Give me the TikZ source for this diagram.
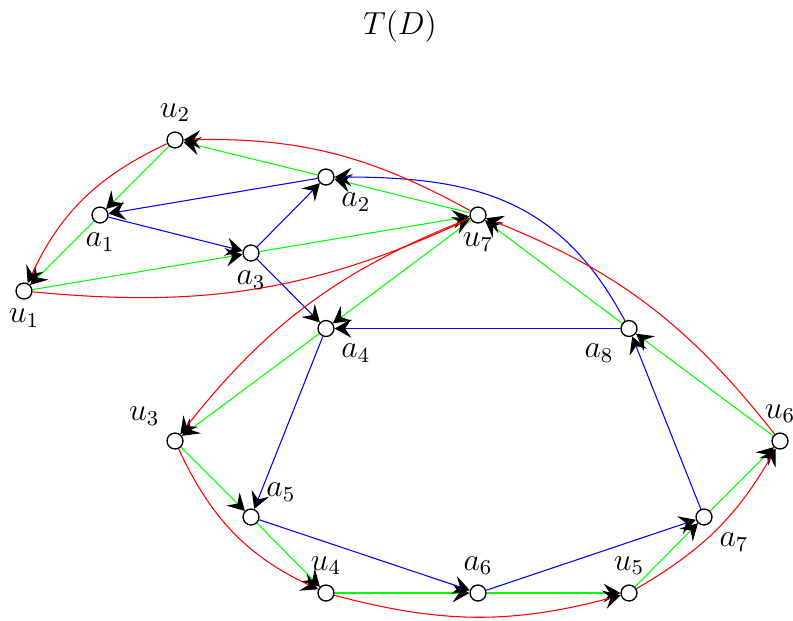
\documentclass[tikz,border=0pt]{standalone}
\usetikzlibrary{arrows.meta,backgrounds}
\begin{document}
\begin{tikzpicture}[x=0.013228cm,y=-0.013228cm,
  font=\fontsize{11.8}{14}\selectfont,
  vtx/.style={circle,draw=black,fill=white,minimum size=6pt,inner sep=0pt,line width=0.5pt},
  lbl/.style={label distance=0pt},
  arr/.style={-{Stealth[length=6.3pt,width=7pt,inset=2.4pt,black]}},
  gr/.style={arr,green},
  bl/.style={arr,blue},
  rd/.style={arr,red}]
\useasboundingbox (0,0) rectangle (793,620);
\node (title) at (400,27) {$T(D)$};
\node[vtx,label={[lbl]above:$u_2$}] (u2) at (175,140) {};
\node[vtx,label={[lbl]below right:$a_2$}] (a2) at (326,177) {};
\node[vtx,label={[lbl]below:$a_1$}] (a1) at (100,215) {};
\node[vtx,label={[lbl]below:$u_7$}] (u7) at (478,215) {};
\node[vtx,label={[lbl]below:$a_3$}] (a3) at (251,253) {};
\node[vtx,label={[lbl]below:$u_1$}] (u1) at (24,291) {};
\node[vtx,label={[lbl]below right:$a_4$}] (a4) at (326,328.5) {};
\node[vtx,label={[lbl]below left:$a_8$}] (a8) at (629,328.5) {};
\node[vtx,label={[lbl]above left:$u_3$}] (u3) at (175,441) {};
\node[vtx,label={[lbl]above:$u_6$}] (u6) at (780,441) {};
\node[vtx,label={[lbl]above right:$a_5$}] (a5) at (251,517) {};
\node[vtx,label={[lbl]below right:$a_7$}] (a7) at (704,517) {};
\node[vtx,label={[lbl]above:$u_4$}] (u4) at (326,593) {};
\node[vtx,label={[lbl]above:$a_6$}] (a6) at (478,593) {};
\node[vtx,label={[lbl]above:$u_5$}] (u5) at (629,593) {};
\begin{scope}[on background layer]
  % green
  \draw[gr] (a2) -- (u2);
  \draw[gr] (u2) -- (a1);
  \draw[gr] (a1) -- (u1);
  \draw[gr] (u1) -- (a3);
  \draw[gr] (a3) -- (u7);
  \draw[gr] (u7) -- (a2);
  \draw[gr] (u7) -- (a4);
  \draw[gr] (a8) -- (u7);
  \draw[gr] (a4) -- (u3);
  \draw[gr] (u3) -- (a5);
  \draw[gr] (a5) -- (u4);
  \draw[gr] (u4) -- (a6);
  \draw[gr] (a6) -- (u5);
  \draw[gr] (u5) -- (a7);
  \draw[gr] (a7) -- (u6);
  \draw[gr] (u6) -- (a8);
  % blue
  \draw[bl] (a2) -- (a1);
  \draw[bl] (a1) -- (a3);
  \draw[bl] (a3) -- (a2);
  \draw[bl] (a3) -- (a4);
  \draw[bl] (a8) -- (a4);
  \draw[bl] (a8) to[out=118,in=0,looseness=1.1] (a2);
  \draw[bl] (a4) -- (a5);
  \draw[bl] (a5) -- (a6);
  \draw[bl] (a6) -- (a7);
  \draw[bl] (a7) -- (a8);
  % red
  \draw[rd] (u7) to[bend right=15] (u2);
  \draw[rd] (u2) to[bend right=20] (u1);
  \draw[rd] (u1) to[bend right=15] (u7);
  \draw[rd] (u7) to[bend right=15] (u3);
  \draw[rd] (u3) to[bend right=20] (u4);
  \draw[rd] (u4) to[bend right=15] (u5);
  \draw[rd] (u5) to[bend right=15] (u6);
  \draw[rd] (u6) to[bend right=15] (u7);
\end{scope}
\end{tikzpicture}
\end{document}
